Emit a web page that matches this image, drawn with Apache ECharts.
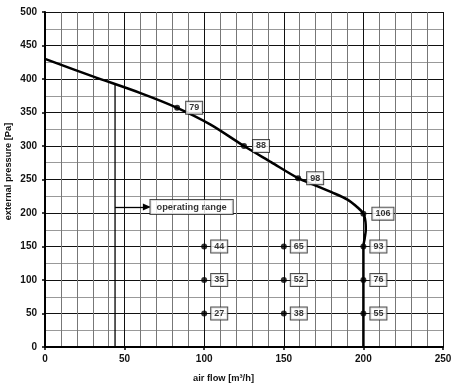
<!DOCTYPE html>
<html><head><meta charset="utf-8">
<script src="https://cdn.jsdelivr.net/npm/echarts@6/dist/echarts.min.js"></script>
<style>html,body{margin:0;padding:0;background:#fff}#c{width:454px;height:389px}</style>
</head><body><div id="c"></div>
<script>
const curveFlow =     [0,   30,  60,  83,  104, 125, 142, 159, 170, 180, 190, 196, 200, 201.3, 201.5, 200.8, 200, 200];
const curvePressure = [430, 404, 379, 357, 332, 300, 276, 252, 241, 231, 220, 209, 199, 187,   175,   162,   150, 0];
const ratedFlow = [83, 125, 159, 200];
const ratedPressure = [357, 300, 252, 199];
const ratedNoise = [79, 88, 98, 106];
const gridFlow = [100, 100, 100, 150, 150, 150, 200, 200, 200];
const gridPressure = [150, 100, 50, 150, 100, 50, 150, 100, 50];
const gridNoise = [44, 35, 27, 65, 52, 38, 93, 76, 55];
const opFlow = 44, opTop = 391, opArrowY = 209, opArrowEnd = 64;
const opText = 'operating range';
const xTitle = 'air flow [m³/h]';
const yTitle = 'external pressure [Pa]';

const font = 'Liberation Sans, Arial, sans-serif';
const boxLabel = (dist) => ({
  show: true, position: 'right', distance: dist,
  formatter: p => p.value[2],
  backgroundColor: '#fff', borderColor: '#222', borderWidth: 1,
  padding: [2, 3, 1, 3], color: '#000', fontFamily: font, fontWeight: 'bold', fontSize: 9
});

const chart = echarts.init(document.getElementById('c'), null, {renderer: 'canvas'});
chart.setOption({
  animation: false,
  grid: {left: 45, right: 11, top: 12, bottom: 42, containLabel: false, outerBoundsMode: 'none'},
  xAxis: {
    type: 'value', min: 0, max: 250, interval: 50,
    name: xTitle, nameLocation: 'middle', nameGap: 27, nameMoveOverlap: false,
    nameTextStyle: {fontFamily: font, fontWeight: 'bold', fontSize: 9.3, color: '#111', padding: [0, 41, 0, 0]},
    axisLine: {show: true, onZero: false, lineStyle: {color: '#000', width: 2}},
    axisTick: {show: true, length: 3, lineStyle: {color: '#000', width: 1.5}},
    axisLabel: {fontFamily: font, fontWeight: 'bold', fontSize: 10, color: '#111', margin: 7},
    splitLine: {show: true, lineStyle: {color: '#111', width: 1}},
    minorTick: {show: false, splitNumber: 5},
    minorSplitLine: {show: true, lineStyle: {color: '#777', width: 1}}
  },
  yAxis: {
    type: 'value', min: 0, max: 500, interval: 50,
    name: yTitle, nameLocation: 'middle', nameGap: 32, nameRotate: 90, nameMoveOverlap: false,
    nameTextStyle: {fontFamily: font, fontWeight: 'bold', fontSize: 9.3, color: '#111', padding: [0, 0, 0, 16]},
    axisLine: {show: true, lineStyle: {color: '#000', width: 2}},
    axisTick: {show: true, length: 3, lineStyle: {color: '#000', width: 1.5}},
    axisLabel: {fontFamily: font, fontWeight: 'bold', fontSize: 10, color: '#111', margin: 8},
    splitLine: {show: true, lineStyle: {color: '#111', width: 1}},
    minorTick: {show: false, splitNumber: 2},
    minorSplitLine: {show: true, lineStyle: {color: '#999', width: 1}}
  },
  series: [
    {
      type: 'line', smooth: 0.3, symbol: 'none',
      data: curveFlow.map((x, i) => [x, curvePressure[i]]),
      lineStyle: {color: '#000', width: 2.5}, z: 5
    },
    {
      type: 'line', symbol: 'none',
      data: [[opFlow, 0], [opFlow, opTop]],
      lineStyle: {color: '#000', width: 1.3}, z: 4,
      markLine: {
        silent: true, symbol: ['none', 'triangle'], symbolSize: [7, 8],
        label: {show: false},
        lineStyle: {color: '#000', width: 1.3, type: 'solid'},
        data: [[{coord: [opFlow, opArrowY]}, {coord: [opArrowEnd, opArrowY]}]]
      }
    },
    {
      type: 'scatter', symbolSize: 0,
      data: [[opArrowEnd + 1, opArrowY, opText]],
      label: Object.assign(boxLabel(2), {padding: [3, 6, 2, 6], fontSize: 9.3}), z: 6
    },
    {
      type: 'scatter', symbol: 'circle', symbolSize: 6,
      itemStyle: {color: '#000'},
      data: ratedFlow.map((x, i) => [x, ratedPressure[i], ratedNoise[i]]),
      label: boxLabel(6), z: 7
    },
    {
      type: 'scatter', symbol: 'circle', symbolSize: 6,
      itemStyle: {color: '#000'},
      data: gridFlow.map((x, i) => [x, gridPressure[i], gridNoise[i]]),
      label: boxLabel(4), z: 7
    }
  ]
});
</script></body></html>
